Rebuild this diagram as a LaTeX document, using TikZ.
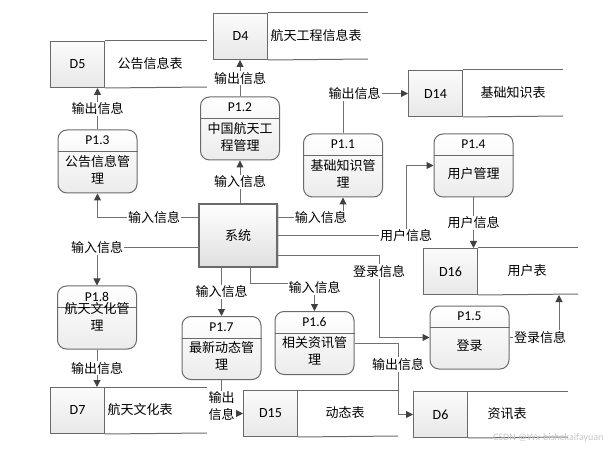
\documentclass[tikz,border=0pt]{standalone}
\usepackage{fontspec}
\setmainfont{Noto Sans CJK SC}
\newfontfamily\lat{Carlito}
\usetikzlibrary{arrows.meta,shadows}
\definecolor{edgec}{HTML}{707070}
\definecolor{tipc}{HTML}{404040}
\definecolor{bord}{HTML}{6A6A6A}
\tikzset{
 every node/.style={font=\fontsize{13}{15}\selectfont},
 procbox/.style={draw=bord, line width=1pt, rounded corners=9pt, minimum width=79pt, minimum height=63pt, top color=white, bottom color=gray!15, inner sep=0pt},
 sysbox/.style={draw=bord, line width=1.2pt, minimum width=78pt, minimum height=63pt, top color=white, bottom color=gray!25, drop shadow={opacity=0.3, shadow xshift=1.5pt, shadow yshift=-1.5pt}},
 idbox/.style={draw=bord, line width=1pt, minimum width=54pt, minimum height=46pt, top color=gray!3, bottom color=gray!18, inner sep=0pt},
 sline/.style={draw=bord, line width=1pt},
 flow/.style={draw=edgec, line width=1pt, -{Triangle[length=7pt,width=7pt,color=tipc]}},
 lbl/.style={fill=white, inner sep=1pt},
}
\newcommand\proc[6]{%
 \node[procbox] (#1) at (#2,#3) {};
 \draw[sline] ([yshift=-22pt]#1.north west) -- ([yshift=-22pt]#1.north east);
 \node[font=\lat\fontsize{13.5}{14}\selectfont, inner sep=0pt] (#1t) at ([yshift=-11pt]#1.north) {#4};
 \node[align=center, font=\fontsize{13}{17}\selectfont, inner sep=0pt] (#1b) at ([yshift=-#6pt]#1.north) {#5};
}
\newcommand\store[7]{%
 \node[idbox, anchor=north west, font=\lat\fontsize{14}{15}\selectfont] (#1) at (#2,#3) {#5};
 \draw[sline] (#1.north east) -- (#4,#3);
 \draw[sline] (#1.south east) -- (#4,#3+46);
 \node (#1x) at (#7,#3+23) {#6};
}
\begin{document}
\begin{tikzpicture}[x=1pt,y=-1pt]
\useasboundingbox (0,0) rectangle (608,449);
% data stores
\store{d5}{50}{41}{207}{D5}{公告信息表}{150}
\store{d4}{213}{13}{368}{D4}{航天工程信息表}{316}
\store{d14}{408}{70}{563}{D14}{基础知识表}{513}
\store{d16}{423}{248}{578}{D16}{用户表}{527}
\store{d6}{413}{391}{568}{D6}{资讯表}{507}
\store{d15}{243}{390}{398}{D15}{动态表}{345}
\store{d7}{50}{387}{207}{D7}{航天文化表}{140}
% processes
\proc{p13}{97.5}{161.5}{P1.3}{公告信息管\\理}{40}
\proc{p12}{240}{128.5}{P1.2}{中国航天工\\程管理}{40}
\proc{p11}{343}{165.5}{P1.1}{基础知识管\\理}{40}
\proc{p14}{473.5}{165.5}{P1.4}{用户管理}{40}
\proc{p18}{97}{317.5}{P1.8}{航天文化管\\理}{31}
\proc{p17}{221.5}{348}{P1.7}{最新动态管\\理}{40}
\proc{p16}{314.5}{343}{P1.6}{相关资讯管\\理}{40}
\proc{p15}{469.5}{337.5}{P1.5}{登录}{40}
% system
\node[sysbox] (sys) at (238,235.5) {系统};
% coordinates
\coordinate (c7) at (406,236);
\coordinate (c9) at (379,256);
\coordinate (c10) at (559,0 |- d16.south);
\coordinate (c14) at (250,284);
\coordinate (c16) at (398,343);
% flows
\draw[flow] (p12.south |- sys.north) -- node[lbl]{输入信息} (p12.south);
\draw[flow] (p12.north) -- node[lbl]{输出信息} (p12.north |- d4.south);
\draw[flow] (p13.north) -- node[lbl]{输出信息} (p13.north |- d5.south);
\draw[flow] (sys.west |- 0,218) -| node[lbl,pos=0.22]{输入信息} (p13.south);
\draw[flow] (sys.east |- 0,218) -| node[lbl,pos=0.33]{输入信息} (p11.south);
\draw[flow] (p11.north) |- node[lbl,pos=0.59]{输出信息} (d14.west);
\draw[flow] (sys.east |- c7) -- (c7) node[lbl]{用户信息} |- (p14.west);
\draw[flow] (p14.south) -- node[lbl]{用户信息} (p14.south |- d16.north);
\draw[flow] (sys.east |- c9) -- (c9) -- node[lbl,pos=0.19]{登录信息} (c9 |- p15.west) -- (p15.west);
\draw[flow] (p15.east) -| node[lbl,pos=0.31]{登录信息} (c10);
\draw[flow] (sys.west |- 0,248) -| node[lbl,pos=0.5]{输入信息} (p18.north);
\draw[flow] (p18.south) -- node[lbl]{输出信息} (p18.south |- d7.north);
\draw[flow] (p17.north |- sys.south) -- node[lbl]{输入信息} (p17.north);
\draw[flow] (c14 |- sys.south) -- (c14) -| node[lbl,pos=0.5,yshift=-4pt]{输入信息} (p16.north);
\draw[flow] (p17.south) |- node[lbl,pos=0.5,yshift=7pt,align=center,font=\fontsize{13}{17}\selectfont]{输出\\信息} (d15.west);
\draw[flow] (p16.east |- c16) -- (c16) |- node[lbl,pos=0.15]{输出信息} (d6.west);
% watermark
\node[anchor=east, text=gray!45, font=\lat\fontsize{10}{12}\selectfont] (wm) at (607,438) {CSDN @Wx-bishekaifayuan};
\end{tikzpicture}
\end{document}
